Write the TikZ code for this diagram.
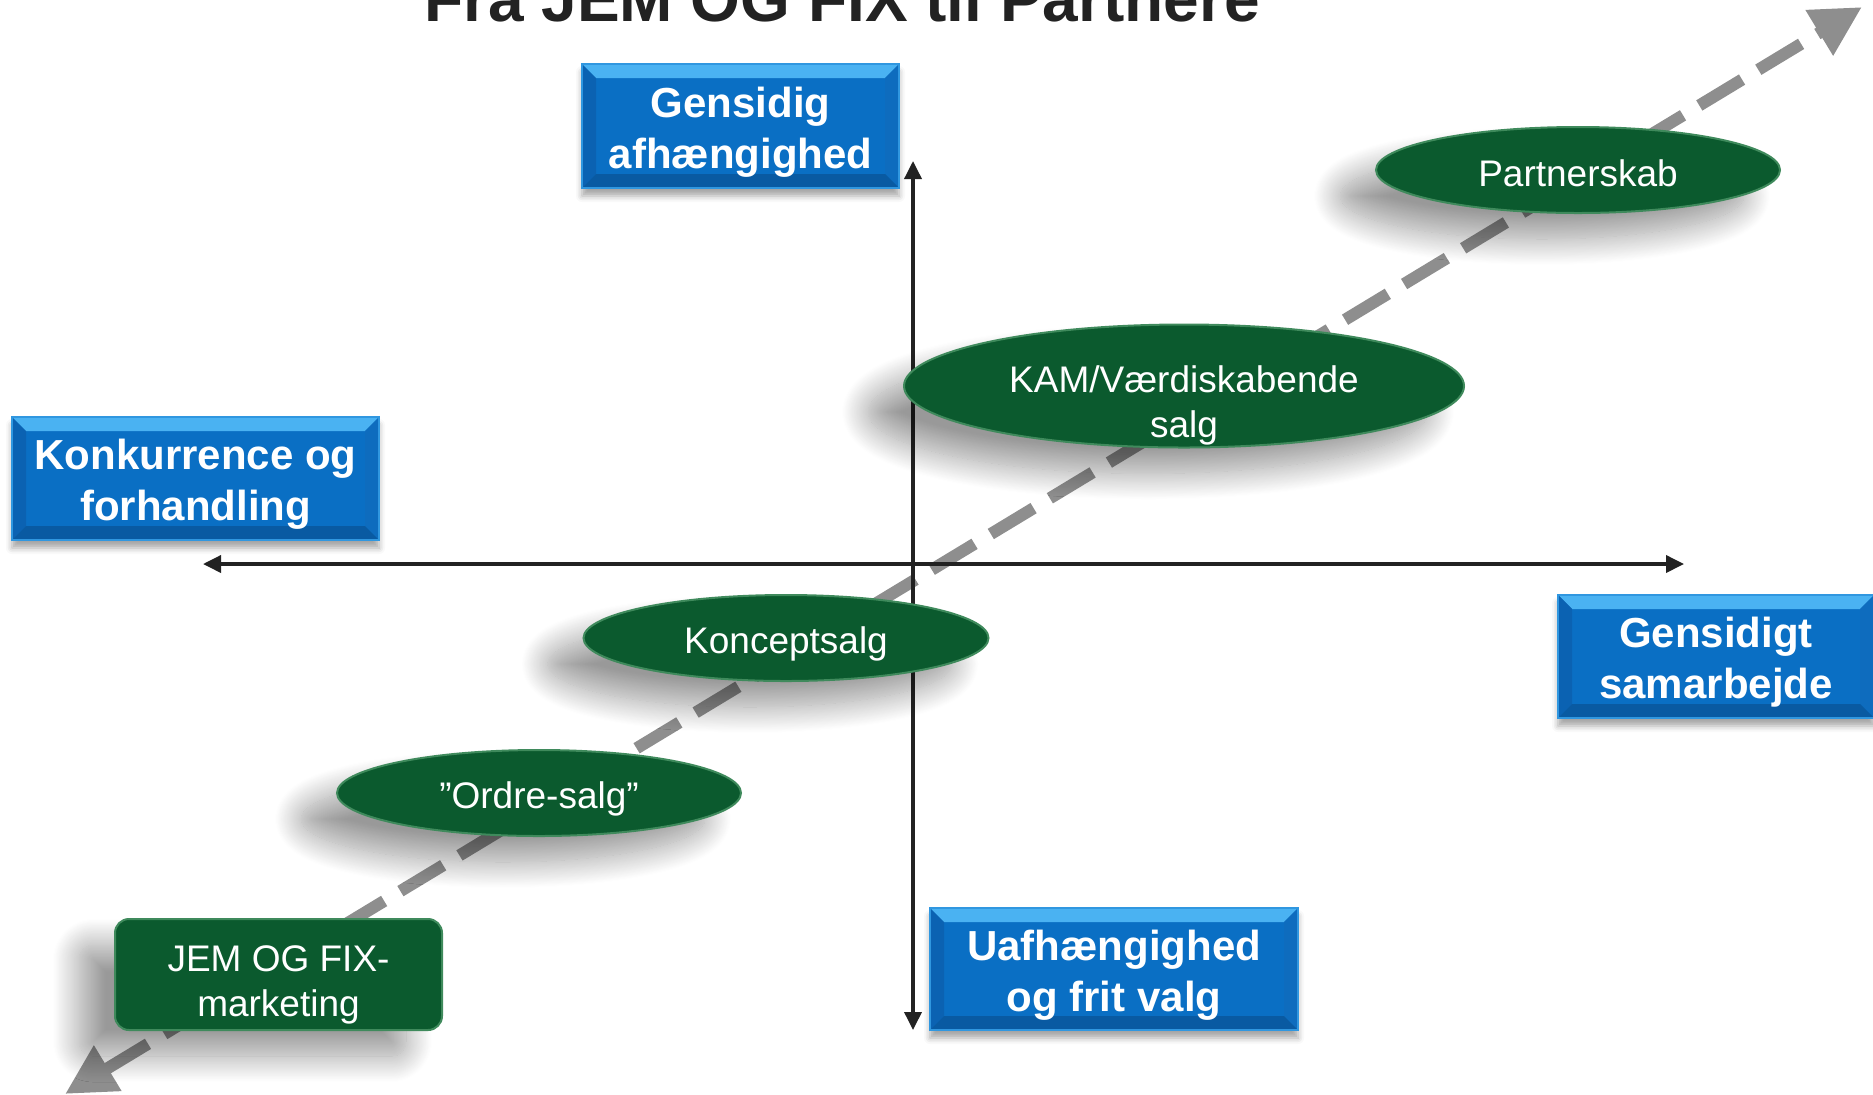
\documentclass[tikz,border=0pt]{standalone}
\usepackage{fontspec}
\setmainfont{Liberation Sans}
\usetikzlibrary{
  calc,shapes.geometric,positioning,shadows,shadows.blur,
  arrows,arrows.meta
}

\definecolor{boxblue}{HTML}{0A6FC4}
\definecolor{bevtop}{HTML}{4AB2F2}
\definecolor{bevside}{HTML}{0B62B2}
\definecolor{bevright}{HTML}{0E6CBE}
\definecolor{bevbottom}{HTML}{095AA2}
\definecolor{stagegreen}{HTML}{0B5A2E}
\definecolor{stagerim}{HTML}{3F8A5C}
\definecolor{pathgray}{HTML}{8E8E8E}
\definecolor{titlegray}{HTML}{222222}

\tikzset{
  bevel/.style={path picture={
    \fill[bevtop] (path picture bounding box.north west) -- (path picture bounding box.north east)
      -- ([xshift=-#1,yshift=-#1]path picture bounding box.north east) -- ([xshift=#1,yshift=-#1]path picture bounding box.north west) -- cycle;
    \fill[bevside] (path picture bounding box.north west) -- (path picture bounding box.south west)
      -- ([xshift=#1,yshift=#1]path picture bounding box.south west) -- ([xshift=#1,yshift=-#1]path picture bounding box.north west) -- cycle;
    \fill[bevright] (path picture bounding box.north east) -- (path picture bounding box.south east)
      -- ([xshift=-#1,yshift=#1]path picture bounding box.south east) -- ([xshift=-#1,yshift=-#1]path picture bounding box.north east) -- cycle;
    \fill[bevbottom] (path picture bounding box.south west) -- (path picture bounding box.south east)
      -- ([xshift=-#1,yshift=#1]path picture bounding box.south east) -- ([xshift=#1,yshift=#1]path picture bounding box.south west) -- cycle;
  }},
  axisbox/.style={rectangle,fill=boxblue,draw=bevtop!60!boxblue,line width=0.6pt,bevel=7pt,
    inner sep=0pt,
    blur shadow={shadow xshift=0pt,shadow yshift=-4pt,shadow blur radius=3pt,shadow opacity=35}},
  axistext/.style={text=white,align=center,inner sep=0pt,
    font=\bfseries\fontsize{21}{25.5}\selectfont},
  stage/.style={ellipse,fill=stagegreen,draw=stagerim,line width=1pt,inner sep=0pt,
    blur shadow={shadow xshift=-18pt,shadow yshift=-13pt,shadow blur radius=13pt,
      shadow blur steps=30,shadow opacity=40}},
  stagetext/.style={text=white,align=center,inner sep=0pt,
    font=\fontsize{18.5}{22.5}\selectfont},
  axisline/.style={draw=titlegray,line width=1.8pt,
    {Triangle[length=9pt,width=8.5pt]}-{Triangle[length=9pt,width=8.5pt]}},
  pathline/.style={draw=pathgray,line width=6pt,dash pattern=on 25pt off 9.5pt,
    {Triangle[length=25pt,width=25pt]}-{Triangle[length=25pt,width=25pt]}}
}

\begin{document}
\begin{tikzpicture}[x=0.5pt,y=-0.5pt]

\useasboundingbox (0,0) rectangle (1873,1094);
\clip (0,0) rectangle (1873,1094);

% title, cut at the top edge
\node[anchor=base,text=titlegray,font=\bfseries\fontsize{32}{38}\selectfont] (title) at (842,21) {Fra JEM OG FIX til Partnere};

% development path
\coordinate (start) at (65,1094);
\coordinate (goal) at (1862,7);
\draw[pathline] (start) -- (goal);

% axes
\coordinate (top) at (913,161);
\coordinate (bottom) at (913,1030);
\coordinate (left) at (203,564);
\coordinate (right) at (1684,564);
\draw[axisline] (bottom) -- (top);
\draw[axisline] (left) -- (right);

% axis labels
\node[axisbox,minimum width=158.5pt,minimum height=62pt] (afh) at (740.5,126) {};
\node[axisbox,minimum width=183.5pt,minimum height=61.5pt] (konk) at (195.5,478.5) {};
\node[axisbox,minimum width=158pt,minimum height=61.5pt] (samarb) at (1716,656.5) {};
\node[axisbox,minimum width=184pt,minimum height=61pt] (uafh) at (1114,969) {};
\node[axistext] (afhtext) at ([yshift=-3pt]afh.center) {Gensidig\\afhængighed};
\node[axistext] (konktext) at ([yshift=-3pt]konk.center) {Konkurrence og\\forhandling};
\node[axistext] (samarbtext) at ([yshift=-3pt]samarb.center) {Gensidigt\\samarbejde};
\node[axistext] (uafhtext) at ([yshift=-3pt]uafh.center) {Uafhængighed\\og frit valg};

% stages
\node[stage,minimum width=202pt,minimum height=43pt] (partner) at (1578,170) {};
\node[stage,minimum width=280pt,minimum height=61.5pt] (kam) at (1184,386) {};
\node[stage,minimum width=202.5pt,minimum height=43pt] (koncept) at (786,638) {};
\node[stage,minimum width=202pt,minimum height=43pt] (ordre) at (539,793) {};
\node[stage,rectangle,rounded corners=7pt,minimum width=163.5pt,minimum height=55.5pt] (jem) at (278.5,974.5) {};
\node[stagetext] (partnertext) at ([yshift=-1.5pt]partner.center) {Partnerskab};
\node[stagetext] (kamtext) at ([yshift=-9.5pt]kam.center) {KAM/Værdiskabende\\salg};
\node[stagetext] (koncepttext) at ([yshift=-3pt]koncept.center) {Konceptsalg};
\node[stagetext] (ordretext) at ([yshift=-3pt]ordre.center) {”Ordre-salg”};
\node[stagetext] (jemtext) at ([yshift=-5pt]jem.center) {JEM OG FIX-\\marketing};
\end{tikzpicture}
\end{document}
